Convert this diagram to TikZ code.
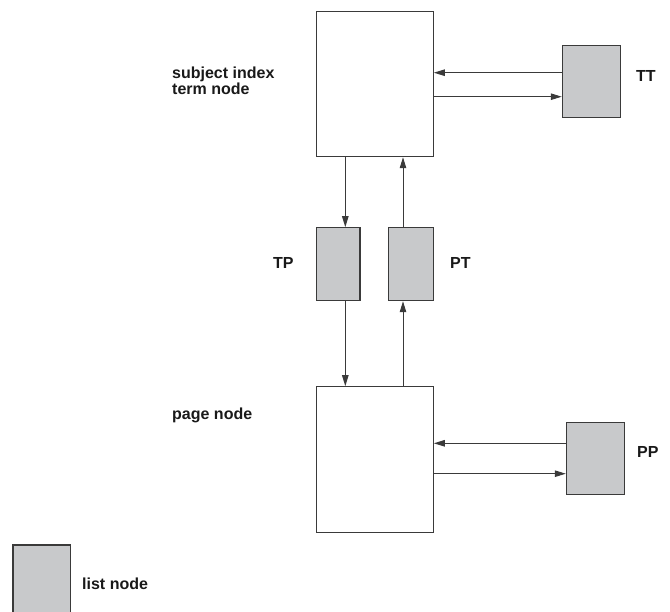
\documentclass[tikz,border=0pt]{standalone}
\usepackage{fontspec}
\setmainfont{Liberation Sans}
\usetikzlibrary{arrows.meta}
\definecolor{boxgray}{HTML}{C8C9CB}
\definecolor{linegray}{HTML}{3A3A3A}
\tikzset{
  box/.style={draw=linegray, line width=1.1pt, fill=white, inner sep=0pt},
  listbox/.style={box, fill=boxgray},
  arr/.style={draw=linegray, line width=1pt, -{Triangle[length=11pt,width=6.5pt]}},
  lbl/.style={font=\fontsize{16}{16}\selectfont\bfseries, inner sep=0pt, text=black!90},
}
\begin{document}
\begin{tikzpicture}[x=1pt,y=-1pt]
\useasboundingbox (0,0) rectangle (670,612);
% main nodes
\node[box, minimum width=116.6pt, minimum height=145pt] (top) at (375,84.2) {};
\node[listbox, minimum width=58.4pt, minimum height=72pt] (TT) at (591.5,81.7) {};
\node[listbox, minimum width=43.3pt, minimum height=73pt] (TP) at (338.3,264.2) {};
\node[listbox, minimum width=44.6pt, minimum height=73pt] (PT) at (411,264.2) {};
\node[box, minimum width=116.6pt, minimum height=145.6pt] (bot) at (375,459.5) {};
\node[listbox, minimum width=57.7pt, minimum height=71.6pt] (PP) at (595.2,458.5) {};
\node[listbox, minimum width=57.7pt, minimum height=72pt] (leg) at (41.8,581) {};
% labels
\node[lbl, anchor=north west, align=left] (lsub) at (172,66.5) {subject index\\term node};
\node[lbl, anchor=base west] (lTT) at (636,82) {TT};
\node[lbl, anchor=base west] (lTP) at (273,269) {TP};
\node[lbl, anchor=base west] (lPT) at (450,269) {PT};
\node[lbl, anchor=base west] (lbot) at (172,420) {page node};
\node[lbl, anchor=base west] (lPP) at (637,458) {PP};
\node[lbl, anchor=base west] (lleg) at (82,589) {list node};
% connectors
\draw[arr] (TT.west |- 0,72.7) -- (top.east |- 0,72.7);
\draw[arr] (top.east |- 0,96.7) -- (TT.west |- 0,96.7);
\draw[arr] (top.south -| 345.3,0) -- (TP.north -| 345.3,0);
\draw[arr] (PT.north -| 403,0) -- (top.south -| 403,0);
\draw[arr] (TP.south -| 345.3,0) -- (bot.north -| 345.3,0);
\draw[arr] (bot.north -| 403,0) -- (PT.south -| 403,0);
\draw[arr] (PP.west |- 0,443.3) -- (bot.east |- 0,443.3);
\draw[arr] (bot.east |- 0,473.7) -- (PP.west |- 0,473.7);
\end{tikzpicture}
\end{document}
